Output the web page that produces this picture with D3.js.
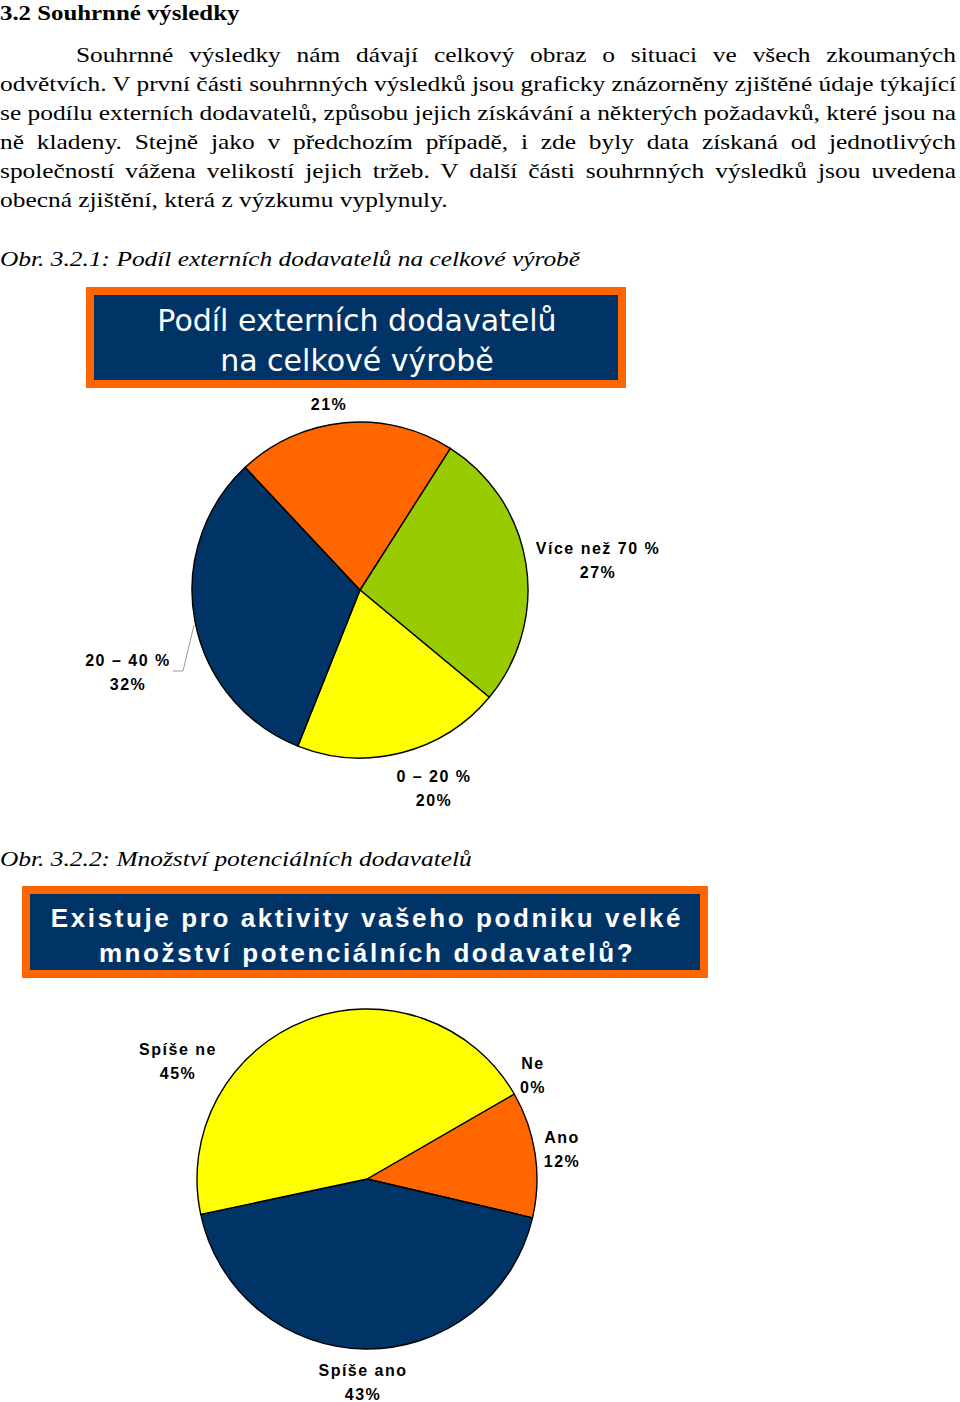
<!DOCTYPE html>
<html>
<head>
<meta charset="utf-8">
<script src="https://cdn.jsdelivr.net/npm/d3@7"></script>
<style>
  body { margin: 0; background: #fff; }
  svg { display: block; }
</style>
</head>
<body>
<div id="app"></div>
<script>
/* globals d3 */
// TEXT
const heading = '3.2 Souhrnné výsledky';
const paragraphLines = [
  'Souhrnné výsledky nám dávají celkový obraz o situaci ve všech zkoumaných',
  'odvětvích. V první části souhrnných výsledků jsou graficky znázorněny zjištěné údaje týkající',
  'se podílu externích dodavatelů, způsobu jejich získávání a některých požadavků, které jsou na',
  'ně kladeny. Stejně jako v\u00a0předchozím případě, i zde byly data získaná od jednotlivých',
  'společností vážena velikostí jejich tržeb. V další části souhrnných výsledků jsou uvedena',
  'obecná zjištění, která z výzkumu vyplynuly.'
];
const caption1 = 'Obr. 3.2.1: Podíl externích dodavatelů na celkové výrobě';
const caption2 = 'Obr. 3.2.2: Množství potenciálních dodavatelů';

// CHART 1 DATA
const shareTitle = ['Podíl externích dodavatelů', 'na celkové výrobě'];
const shareCategories = ['Více než 70 %', '0 – 20 %', '20 – 40 %', '40 – 70 %'];
const shareValues = [27, 20, 32, 21];
const shareShowName = [true, true, true, false];
const shareColours = ['#99cc00', '#ffff00', '#003366', '#ff6600'];

// CHART 2 DATA
const poolTitle = ['Existuje pro aktivity vašeho podniku velké', 'množství potenciálních dodavatelů?'];
const poolCategories = ['Ne', 'Ano', 'Spíše ano', 'Spíše ne'];
const poolValues = [0, 12, 43, 45];
const poolShowName = [true, true, true, true];
const poolColours = ['#99cc00', '#ff6600', '#003366', '#ffff00'];

// LAYOUT
const W = 960, H = 1402;
const SERIF = '"Liberation Serif", "Times New Roman", serif';
const ARIAL = '"Liberation Sans", Arial, sans-serif';
const STRETCH = 1.155; // the page text is a bit wider than plain Times

const svg = d3.select('#app')
  .append('svg')
  .attr('width', W)
  .attr('height', H);

svg.append('rect').attr('width', W).attr('height', H).attr('fill', '#fff');

// heading + paragraph, stretched sideways
const page = svg.append('g')
  .attr('transform', `scale(${STRETCH},1)`)
  .attr('font-family', SERIF)
  .attr('font-size', 22);

page.append('text')
  .attr('x', 0).attr('y', 20)
  .attr('font-size', 21.5).attr('font-weight', 'bold')
  .text(heading);

paragraphLines.forEach((line, i) => {
  const x0 = (i === 0 ? 76 : 0) / STRETCH;
  const right = 956 / STRETCH;
  const t = page.append('text')
    .attr('x', x0).attr('y', 62 + i * 29)
    .text(line);
  if (i < paragraphLines.length - 1) {
    // justify by spreading the gap over the spaces
    const natural = t.node().getComputedTextLength();
    const spaces = (line.match(/[ \u00a0]/g) || []).length;
    t.attr('word-spacing', (right - x0 - natural) / spaces);
  }
});

function caption(text, y) {
  page.append('text')
    .attr('x', 0).attr('y', y)
    .attr('font-style', 'italic')
    .text(text);
}
caption(caption1, 266);
caption(caption2, 866);

// title boxes
function titleBox(box, lines, font, opts) {
  const g = svg.append('g');
  g.append('rect')
    .attr('x', box.x).attr('y', box.y)
    .attr('width', box.w).attr('height', box.h)
    .attr('fill', '#003366')
    .attr('stroke', '#ff6600')
    .attr('stroke-width', 8);
  lines.forEach((line, i) => {
    g.append('text')
      .attr('x', box.x + box.w / 2 + (opts.dx || 0))
      .attr('y', opts.y0 + i * opts.lh)
      .attr('text-anchor', 'middle')
      .attr('fill', '#fff')
      .attr('font-family', font)
      .attr('font-size', opts.size)
      .attr('font-weight', opts.weight || 'normal')
      .attr('letter-spacing', opts.ls || 0)
      .text(line);
  });
}

titleBox({ x: 90, y: 291, w: 532, h: 93 }, shareTitle, '"DejaVu Sans", Verdana, sans-serif',
  { y0: 331, lh: 40, size: 30, dx: 1 });
titleBox({ x: 26, y: 890, w: 678, h: 84 }, poolTitle, ARIAL,
  { y0: 927, lh: 35, size: 26, weight: 'bold', ls: 2.6, dx: 2 });

// pies
function drawPie(cfg) {
  const data = cfg.categories.map((c, i) => ({
    name: c, value: cfg.values[i], showName: cfg.showName[i]
  }));

  const colour = d3.scaleOrdinal()
    .domain(cfg.categories)
    .range(cfg.colours);

  const pie = d3.pie()
    .sort(null)
    .value(d => d.value)
    .startAngle(cfg.start * Math.PI / 180)
    .endAngle((cfg.start + 360) * Math.PI / 180);

  const arc = d3.arc().innerRadius(0).outerRadius(cfg.r);

  const g = svg.append('g')
    .attr('transform', `translate(${cfg.cx},${cfg.cy})`);

  g.selectAll('path')
    .data(pie(data).filter(d => d.data.value > 0))
    .enter()
      .append('path')
      .attr('d', arc)
      .attr('fill', d => colour(d.data.name))
      .attr('stroke', '#000')
      .attr('stroke-width', 1.4)
      .attr('stroke-linejoin', 'round');

  if (cfg.leader) {
    g.append('polyline')
      .attr('points', cfg.leader.map(p => p.join(',')).join(' '))
      .attr('fill', 'none')
      .attr('stroke', '#999')
      .attr('stroke-width', 1);
  }

  const labels = g.selectAll('g.label')
    .data(data)
    .enter()
      .append('g')
      .attr('class', 'label')
      .attr('transform', (d, i) => `translate(${cfg.labelAt[i][0]},${cfg.labelAt[i][1]})`)
      .attr('font-family', ARIAL)
      .attr('font-size', 16)
      .attr('font-weight', 'bold')
      .attr('letter-spacing', 1.5)
      .attr('text-anchor', 'middle');

  labels.each(function(d) {
    const lines = d.showName ? [d.name, d.value + '%'] : [d.value + '%'];
    const top = -(lines.length - 1) * 12;
    d3.select(this).selectAll('text')
      .data(lines)
      .enter()
        .append('text')
        .attr('y', (l, j) => top + j * 24 + 6)
        .text(l => l);
  });
}

drawPie({
  categories: shareCategories, values: shareValues, showName: shareShowName,
  colours: shareColours,
  cx: 360, cy: 590, r: 168, start: 32.5,
  labelAt: [[238, -30], [74, 198], [-232, 82], [-31, -186]],
  leader: [[-187, 81], [-177, 81], [-166, 35]]
});

drawPie({
  categories: poolCategories, values: poolValues, showName: poolShowName,
  colours: poolColours,
  cx: 367, cy: 1179, r: 170, start: 60,
  labelAt: [[166, -104], [195, -30], [-4, 203], [-189, -118]]
});
</script>
</body>
</html>
